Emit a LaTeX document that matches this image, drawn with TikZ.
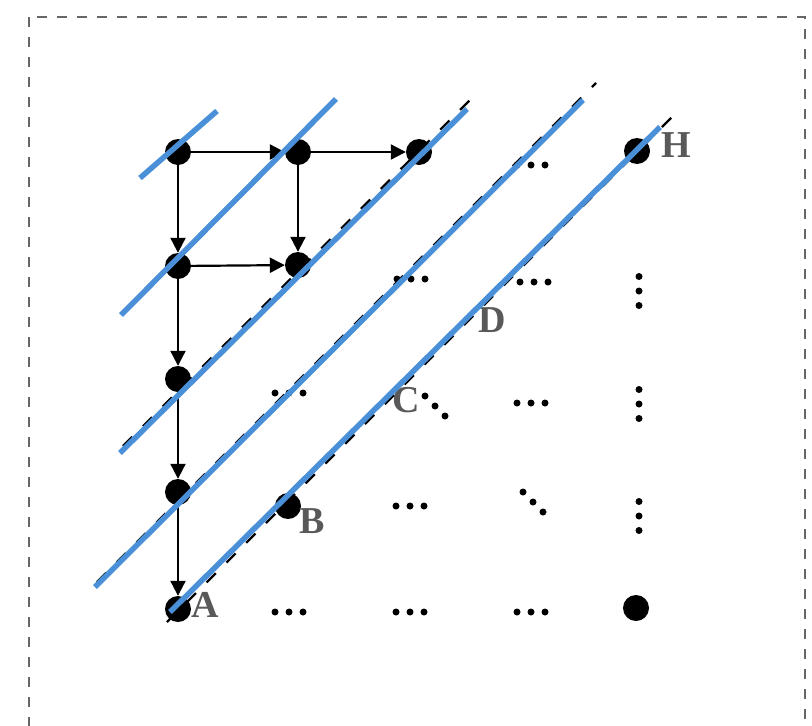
\documentclass[tikz,border=0pt]{standalone}
\usepackage{fontspec}
\setmainfont{Liberation Serif}
\usetikzlibrary{arrows.meta}
\definecolor{lineblue}{RGB}{74,144,217}
\definecolor{labgray}{RGB}{89,89,89}
\definecolor{framegray}{RGB}{102,102,102}
\begin{document}
\begin{tikzpicture}[x=1pt,y=-1pt,
  vertex/.style={circle,fill=black,inner sep=0pt,minimum size=26pt},
  arr/.style={line width=2.2pt,-{Triangle[length=15pt,width=15pt]}},
  band/.style={lineblue,line width=5.5pt},
  guide/.style={black,line width=2.2pt,dash pattern=on 13pt off 15pt},
  lab/.style={text=labgray,font=\fontsize{38}{38}\selectfont\bfseries,inner sep=0pt},
  hell/.pic={\fill (-14,0) circle (3.5) (0,0) circle (3.5) (14,0) circle (3.5);},
  vell/.pic={\fill (0,-14.5) circle (3.5) (0,0) circle (3.5) (0,14.5) circle (3.5);},
  dell/.pic={\fill (-10,-10) circle (3.5) (0,0) circle (3.5) (10,10) circle (3.5);},
  ]
\useasboundingbox (0,0) rectangle (812,726);
\clip (0,0) rectangle (812,726);
% outer dashed frame
\draw[framegray,line width=2pt,dash pattern=on 10pt off 10pt] (29,17) rectangle (805,760);

% grid vertices
\node[vertex] (v11) at (178,152) {};
\node[vertex] (v12) at (298,152) {};
\node[vertex] (v13) at (419,152) {};
\node[vertex] (vH)  at (637,151) {};
\node[vertex] (v21) at (178,266) {};
\node[vertex] (v22) at (298,265) {};
\node[vertex] (v31) at (178,379) {};
\node[vertex] (v41) at (178,492) {};
\node[vertex] (vB)  at (288,506) {};
\node[vertex] (vA)  at (178,609) {};
\node[vertex] (vZ)  at (636,608) {};

% dependency arrows
\draw[arr] (v11) -- (v12);
\draw[arr] (v12) -- (v13);
\draw[arr] (v11) -- (v21);
\draw[arr] (v12) -- (v22);
\draw[arr] (v21) -- (v22);
\draw[arr] (v21) -- (v31);
\draw[arr] (v31) -- (v41);
\draw[arr] (v41) -- (vA);

% ellipses
\pic at (531,165) {hell};
\pic at (411,279) {hell};
\pic at (534,282) {hell};
\pic at (639,291) {vell};
\pic at (289,393) {hell};
\pic at (435,406) {dell};
\pic at (531,403) {hell};
\pic at (639,404) {vell};
\pic at (410,506) {hell};
\pic at (533,502) {dell};
\pic at (639,516) {vell};
\pic at (289,612) {hell};
\pic at (410,612) {hell};
\pic at (531,612) {hell};

% labels
\node[lab] (lA) at (205,605) {A};
\node[lab] (lB) at (312,521) {B};
\node[lab] (lC) at (406,400) {C};
\node[lab] (lD) at (492,320) {D};
\node[lab] (lH) at (676,145) {H};

% dashed guide lines
\draw[guide] (123,446) -- (472,98);
\draw[guide] (97,582) -- (596,83);
\draw[guide] (167,622) -- (673,116);

% anti-diagonal bands
\draw[band] (140,178) -- (217,111);
\draw[band] (121,315) -- (336,99);
\draw[band] (120,453) -- (467,109);
\draw[band] (95,587) -- (583,100);
\draw[band] (170,612) -- (660,127);
\end{tikzpicture}
\end{document}
